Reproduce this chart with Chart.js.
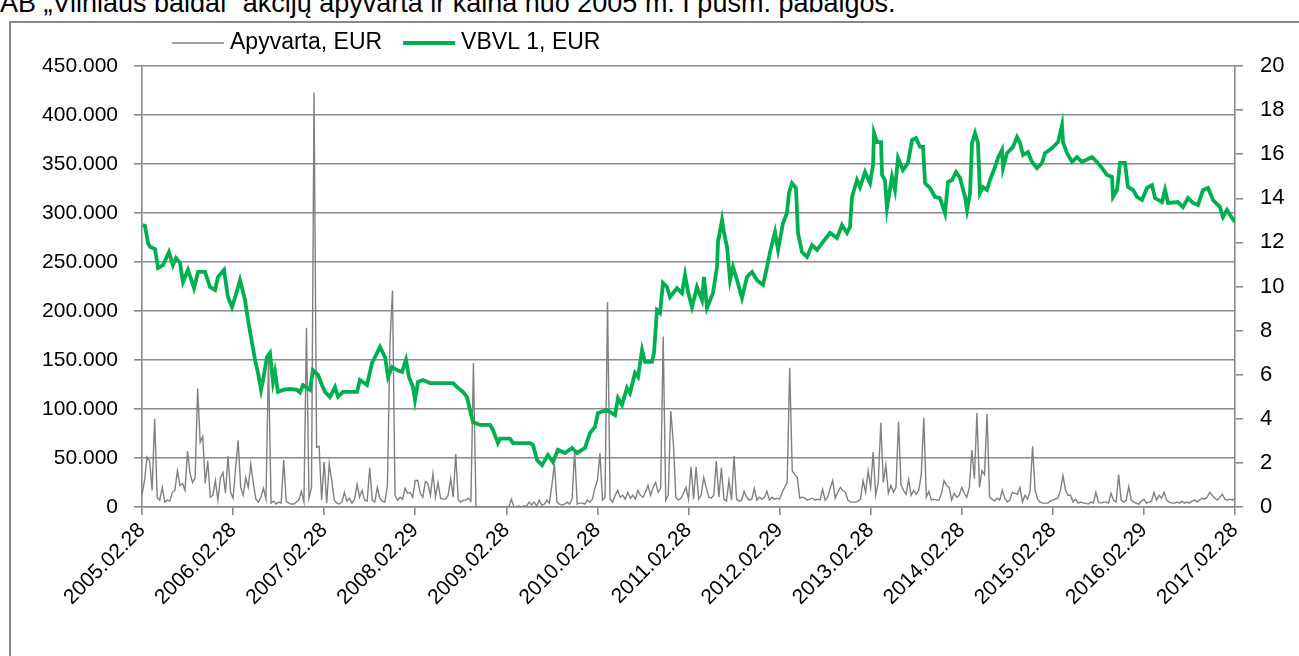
<!DOCTYPE html>
<html>
<head>
<meta charset="utf-8">
<script src="https://cdn.jsdelivr.net/npm/chart.js@4.4.1/dist/chart.umd.min.js"></script>
<style>
  body { margin: 0; background: #fff; width: 1299px; height: 656px; overflow: hidden; position: relative; font-family: "Liberation Sans", Arial, sans-serif; }
  #title { position: absolute; left: 0; top: -10px; font-size: 27px; line-height: 27px; white-space: nowrap; color: #000; }
  #frame { position: absolute; left: 9px; top: 21px; width: 1400px; height: 700px; border-left: 2px solid #888; border-top: 2px solid #888; }
  #chart { position: absolute; left: 0; top: 0; }
</style>
</head>
<body>
<div id="title">AB „Vilniaus baldai“ akcijų apyvarta ir kaina nuo 2005 m. I pusm. pabaigos.</div>
<div id="frame"></div>
<canvas id="chart" width="1299" height="656"></canvas>
<script>
// x axis labels, one per year
var dateLabels = ['2005.02.28', '2006.02.28', '2007.02.28', '2008.02.29', '2009.02.28', '2010.02.28',
    '2011.02.28', '2012.02.29', '2013.02.28', '2014.02.28', '2015.02.28', '2016.02.29', '2017.02.28'];
var startYear = 2005.16; // 2005.02.28 as decimal year

// turnover, thousand EUR, sampled 36 times a year from the start date
var turnoverK = [
    12, 27, 51, 47, 17, 90, 10, 7, 20, 5,
    7, 6, 15, 17, 37, 22, 24, 17, 57, 34,
    25, 30, 121, 66, 72, 24, 47, 10, 12, 27,
    7, 30, 35, 14, 52, 15, 9, 40, 68, 20,
    12, 30, 20, 44, 24, 8, 5, 10, 19, 8,
    150, 4, 6, 3, 5, 4, 48, 6, 4, 3,
    3, 5, 7, 16, 5, 183, 9, 20, 423, 61,
    62, 7, 46, 4, 44, 27, 7, 4, 3, 5,
    15, 6, 9, 4, 8, 23, 10, 17, 7, 6,
    40, 7, 5, 20, 9, 6, 5, 22, 167, 221,
    12, 7, 10, 8, 19, 14, 15, 10, 27, 27,
    14, 10, 26, 24, 12, 34, 10, 25, 9, 8,
    8, 12, 29, 10, 54, 7, 5, 7, 7, 9,
    6, 147, 1, 0, 0, 0, 0, 0, 0, 0,
    0, 0, 0, 0, 0, 0, 8, 0, 0, 1,
    0, 1, 1, 5, 2, 5, 1, 7, 2, 3,
    7, 4, 22, 44, 5, 3, 2, 3, 5, 3,
    8, 58, 3, 4, 4, 3, 7, 5, 8, 19,
    27, 55, 7, 10, 209, 8, 5, 12, 17, 10,
    12, 8, 15, 9, 12, 8, 17, 12, 10, 15,
    22, 12, 20, 25, 15, 19, 174, 7, 12, 98,
    66, 10, 7, 9, 14, 20, 8, 41, 8, 41,
    8, 12, 30, 20, 10, 9, 12, 47, 10, 40,
    8, 6, 27, 7, 52, 8, 6, 7, 16, 10,
    7, 8, 19, 7, 10, 8, 10, 16, 7, 10,
    8, 9, 8, 15, 20, 25, 142, 37, 33, 30,
    9, 10, 9, 7, 8, 9, 7, 8, 7, 18,
    7, 10, 19, 27, 9, 15, 20, 17, 15, 7,
    5, 5, 5, 6, 8, 27, 15, 37, 20, 56,
    12, 25, 86, 25, 43, 14, 22, 15, 20, 87,
    23, 17, 13, 28, 12, 17, 13, 17, 33, 91,
    10, 16, 7, 8, 7, 7, 14, 27, 22, 20,
    7, 14, 10, 12, 20, 14, 10, 20, 58, 29,
    96, 20, 37, 33, 95, 10, 8, 6, 9, 7,
    17, 9, 5, 7, 15, 14, 13, 20, 5, 12,
    8, 16, 62, 17, 8, 5, 4, 4, 4, 6,
    7, 8, 9, 17, 32, 17, 12, 12, 5, 8,
    4, 5, 4, 4, 3, 5, 4, 15, 5, 4,
    5, 5, 4, 14, 7, 5, 33, 7, 5, 7,
    21, 7, 5, 4, 3, 6, 8, 4, 5, 6,
    15, 7, 12, 9, 15, 7, 5, 4, 4, 5,
    4, 6, 4, 5, 4, 6, 7, 5, 7, 9,
    8, 10, 15, 12, 9, 7, 10, 13, 8, 7,
    8, 7, 9
];

// VBVL1 share price, EUR
var priceDates = [
    2005.168, 2005.193, 2005.226, 2005.248, 2005.303, 2005.336, 2005.391, 2005.456, 2005.500, 2005.533,
    2005.577, 2005.610, 2005.665, 2005.731, 2005.775, 2005.852, 2005.907, 2005.962, 2005.994, 2006.060,
    2006.104, 2006.148, 2006.181, 2006.236, 2006.291, 2006.324, 2006.368, 2006.401, 2006.434, 2006.467,
    2006.489, 2006.532, 2006.565, 2006.598, 2006.620, 2006.653, 2006.708, 2006.785, 2006.862, 2006.895,
    2006.928, 2007.005, 2007.037, 2007.092, 2007.136, 2007.169, 2007.224, 2007.279, 2007.312, 2007.367,
    2007.444, 2007.521, 2007.553, 2007.630, 2007.685, 2007.740, 2007.773, 2007.828, 2007.861, 2007.905,
    2007.960, 2008.015, 2008.058, 2008.091, 2008.135, 2008.157, 2008.190, 2008.245, 2008.322, 2008.432,
    2008.574, 2008.629, 2008.684, 2008.728, 2008.761, 2008.794, 2008.871, 2008.981, 2009.014, 2009.068,
    2009.090, 2009.200, 2009.233, 2009.420, 2009.453, 2009.497, 2009.552, 2009.617, 2009.672, 2009.727,
    2009.804, 2009.881, 2009.936, 2010.024, 2010.079, 2010.133, 2010.166, 2010.265, 2010.353, 2010.386,
    2010.430, 2010.485, 2010.518, 2010.573, 2010.606, 2010.650, 2010.682, 2010.759, 2010.781, 2010.814,
    2010.847, 2010.880, 2010.924, 2010.957, 2011.034, 2011.089, 2011.122, 2011.155, 2011.198, 2011.253,
    2011.308, 2011.330, 2011.363, 2011.429, 2011.473, 2011.484, 2011.528, 2011.550, 2011.583, 2011.616,
    2011.649, 2011.693, 2011.747, 2011.802, 2011.857, 2011.912, 2011.978, 2012.022, 2012.055, 2012.110,
    2012.143, 2012.198, 2012.241, 2012.263, 2012.296, 2012.340, 2012.362, 2012.406, 2012.461, 2012.516,
    2012.571, 2012.637, 2012.714, 2012.790, 2012.845, 2012.900, 2012.933, 2012.955, 2013.010, 2013.043,
    2013.098, 2013.153, 2013.186, 2013.197, 2013.230, 2013.274, 2013.285, 2013.317, 2013.339, 2013.394,
    2013.427, 2013.460, 2013.515, 2013.570, 2013.614, 2013.658, 2013.702, 2013.735, 2013.757, 2013.811,
    2013.866, 2013.921, 2013.976, 2014.009, 2014.053, 2014.097, 2014.141, 2014.196, 2014.218, 2014.251,
    2014.273, 2014.306, 2014.338, 2014.360, 2014.393, 2014.437, 2014.470, 2014.525, 2014.558, 2014.602,
    2014.613, 2014.657, 2014.723, 2014.767, 2014.800, 2014.833, 2014.887, 2014.931, 2014.986, 2015.041,
    2015.074, 2015.151, 2015.217, 2015.261, 2015.272, 2015.316, 2015.371, 2015.425, 2015.480, 2015.590,
    2015.645, 2015.700, 2015.755, 2015.810, 2015.821, 2015.865, 2015.898, 2015.952, 2015.985, 2016.040,
    2016.084, 2016.139, 2016.194, 2016.249, 2016.282, 2016.359, 2016.392, 2016.425, 2016.534, 2016.589,
    2016.644, 2016.699, 2016.754, 2016.809, 2016.864, 2016.919, 2016.995, 2017.028, 2017.072, 2017.127,
    2017.160
];
var priceValues = [
    12.79, 12.75, 11.97, 11.80, 11.70, 10.84, 10.97, 11.56, 10.97, 11.29,
    11.07, 10.20, 10.75, 9.93, 10.66, 10.66, 9.98, 9.84, 10.43, 10.75,
    9.52, 9.07, 9.48, 10.29, 9.39, 8.48, 7.44, 6.67, 6.08, 5.31,
    5.76, 6.80, 6.98, 5.67, 6.12, 5.22, 5.31, 5.35, 5.31, 5.20,
    5.53, 5.31, 6.21, 5.99, 5.53, 5.22, 4.99, 5.44, 5.00, 5.22,
    5.22, 5.22, 5.76, 5.53, 6.53, 6.98, 7.26, 6.80, 5.90, 6.35,
    6.21, 6.12, 6.67, 5.90, 5.44, 4.85, 5.67, 5.76, 5.62, 5.62,
    5.62, 5.40, 5.22, 4.99, 4.40, 3.85, 3.72, 3.72, 3.49, 2.90,
    3.10, 3.10, 2.90, 2.90, 2.81, 2.13, 1.90, 2.36, 2.04, 2.59,
    2.45, 2.68, 2.45, 2.68, 3.36, 3.63, 4.26, 4.40, 4.17, 4.94,
    4.63, 5.40, 5.17, 6.08, 5.90, 7.12, 6.58, 6.58, 6.98, 8.93,
    8.80, 10.16, 9.98, 9.52, 9.93, 9.70, 10.52, 9.75, 9.07, 9.98,
    9.39, 10.43, 9.02, 9.70, 10.88, 12.02, 13.02, 12.43, 11.79, 10.29,
    10.88, 10.29, 9.48, 10.43, 10.66, 10.29, 10.07, 10.88, 11.56, 12.47,
    11.66, 12.88, 13.33, 14.24, 14.69, 14.47, 12.43, 11.56, 11.34, 11.88,
    11.66, 12.02, 12.43, 12.20, 12.79, 12.43, 12.70, 14.06, 14.83, 14.51,
    15.19, 14.69, 15.51, 16.96, 16.55, 16.55, 15.06, 14.83, 13.56, 14.97,
    14.38, 15.83, 15.28, 15.60, 16.64, 16.73, 16.33, 16.33, 14.69, 14.47,
    14.06, 14.01, 13.33, 14.74, 14.83, 15.19, 14.92, 14.06, 13.47, 14.24,
    16.51, 16.96, 16.51, 14.24, 14.51, 14.38, 14.83, 15.42, 15.83, 16.19,
    15.37, 16.05, 16.33, 16.78, 16.51, 15.96, 16.10, 15.65, 15.37, 15.60,
    16.05, 16.28, 16.55, 17.32, 16.55, 16.05, 15.65, 15.87, 15.65, 15.87,
    15.65, 15.37, 15.06, 14.97, 14.06, 14.38, 15.60, 15.60, 14.51, 14.38,
    14.06, 13.92, 14.47, 14.60, 14.01, 13.83, 14.38, 13.79, 13.83, 13.60,
    14.01, 13.79, 13.70, 14.38, 14.47, 13.92, 13.60, 13.15, 13.47, 13.11,
    12.93
];

var gridColor = '#8a8a8a';
var fontFamily = '"Liberation Sans", Arial, sans-serif';

var turnoverPoints = turnoverK.map(function (v, i) {
    return { x: startYear + i / 36, y: v * 1000 };
});
var pricePoints = priceDates.map(function (d, i) {
    return { x: d, y: priceValues[i] };
});

// legend with line samples, drawn on the canvas
var lineLegend = {
    id: 'lineLegend',
    afterDraw: function (chart) {
        var ctx = chart.ctx;
        var x = 172, y = 43;
        ctx.save();
        ctx.font = '23px ' + fontFamily;
        ctx.textBaseline = 'middle';
        chart.data.datasets.forEach(function (ds) {
            ctx.strokeStyle = ds.borderColor;
            ctx.lineWidth = ds.borderWidth;
            ctx.beginPath();
            ctx.moveTo(x, y);
            ctx.lineTo(x + 52, y);
            ctx.stroke();
            ctx.fillStyle = '#000';
            ctx.fillText(ds.label, x + 58, y);
            x += 58 + ctx.measureText(ds.label).width + 21;
        });
        ctx.restore();
    }
};

Chart.defaults.font.family = fontFamily;
Chart.defaults.font.size = 21;
Chart.defaults.color = '#000';

var ctx = document.getElementById('chart').getContext('2d');
var chart = new Chart(ctx, {
    type: 'line',
    data: {
        datasets: [{
            label: 'Apyvarta, EUR',
            data: turnoverPoints,
            yAxisID: 'y',
            borderColor: '#808080',
            borderWidth: 1.4,
            pointRadius: 0,
            order: 2
        }, {
            label: 'VBVL 1, EUR',
            data: pricePoints,
            yAxisID: 'y1',
            borderColor: '#00B050',
            borderWidth: 3.8,
            pointRadius: 0,
            order: 1
        }]
    },
    options: {
        responsive: false,
        animation: false,
        devicePixelRatio: 1,
        layout: { padding: { top: 66, left: 0, right: 0, bottom: 0 } },
        plugins: { legend: { display: false }, tooltip: { enabled: false } },
        scales: {
            x: {
                type: 'linear',
                min: startYear,
                max: startYear + 12,
                afterBuildTicks: function (scale) {
                    scale.ticks = dateLabels.map(function (l, i) { return { value: startYear + i }; });
                },
                afterFit: function (scale) { scale.height = 149; },
                grid: { drawOnChartArea: false, color: gridColor, lineWidth: 1.6, tickLength: 8 },
                border: { color: gridColor, width: 1.6 },
                ticks: {
                    autoSkip: false,
                    minRotation: 45,
                    maxRotation: 45,
                    padding: 3,
                    callback: function (v, i) { return dateLabels[i]; }
                }
            },
            y: {
                position: 'left',
                min: 0,
                max: 450000,
                afterFit: function (scale) { scale.width = 142; },
                grid: { color: gridColor, lineWidth: 1.6, tickLength: 8 },
                border: { color: gridColor, width: 1.6 },
                ticks: {
                    stepSize: 50000,
                    padding: 16,
                    callback: function (v) { return v === 0 ? '0' : (v / 1000) + '.000'; }
                }
            },
            y1: {
                position: 'right',
                min: 0,
                max: 20,
                afterFit: function (scale) { scale.width = 64; },
                grid: { drawOnChartArea: false, color: gridColor, lineWidth: 1.6, tickLength: 8 },
                border: { color: gridColor, width: 1.6 },
                ticks: { stepSize: 2, padding: 17, font: { size: 22 } }
            }
        }
    },
    plugins: [lineLegend]
});
</script>
</body>
</html>
